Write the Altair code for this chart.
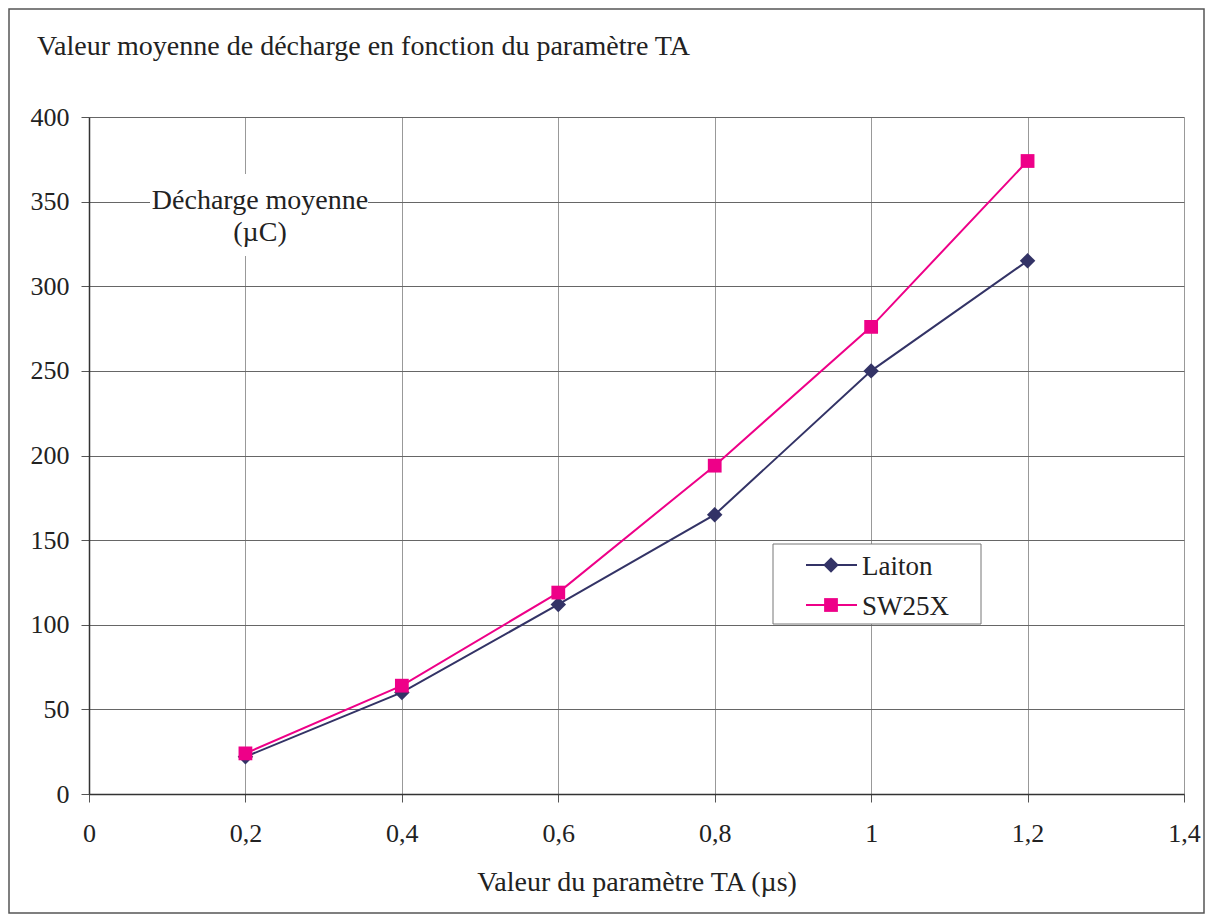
import altair as alt
import pandas as pd

ta = [0.2, 0.4, 0.6, 0.8, 1.0, 1.2]
laiton = [22, 60, 112, 165, 250, 315]
sw25x = [24, 64, 119, 194, 276, 374]
series = ["Laiton", "SW25X"]
colors = ["#333366", "#EE0088"]
shapes = ["diamond", "square"]
sizes = [240, 190]

x_ticks = [0, 0.2, 0.4, 0.6, 0.8, 1.0, 1.2, 1.4]
y_ticks = [0, 50, 100, 150, 200, 250, 300, 350, 400]

title_text = "Valeur moyenne de décharge en fonction du paramètre TA"
x_title = "Valeur du paramètre TA (µs)"
y_title = "Décharge moyenne\n(µC)"

W, H = 1095, 677
FONT = "Liberation Serif"
TXT = "#222222"

rows = []
for s, vals in zip(series, [laiton, sw25x]):
    for t, v in zip(ta, vals):
        rows.append({"TA": t, "val": v, "serie": s})
df = pd.DataFrame(rows)

xs = alt.Scale(domain=[0, 1.4], nice=False)
ys = alt.Scale(domain=[0, 400], nice=False)
cs = alt.Scale(domain=series, range=colors)
ss = alt.Scale(domain=series, range=shapes)
zs = alt.Scale(domain=series, range=sizes)

x_enc = alt.X("TA:Q", scale=xs, axis=alt.Axis(
    values=x_ticks, title=x_title, grid=True, gridColor="#999999",
    labelExpr="replace(datum.label, '.', ',')", format="~g",
    tickSize=8, tickColor="#555555", labelPadding=18, titlePadding=22,
    domainColor="#333333", domainWidth=1.5, labelFlush=False,
    labelFont=FONT, labelFontSize=26, labelColor=TXT,
    titleFont=FONT, titleFontSize=28, titleColor=TXT, titleFontWeight="normal"))
y_enc = alt.Y("val:Q", scale=ys, axis=alt.Axis(
    values=y_ticks, title=None, grid=True, gridColor="#666666",
    tickSize=8, tickColor="#555555", labelPadding=12,
    domainColor="#333333", domainWidth=1.5,
    labelFont=FONT, labelFontSize=26, labelColor=TXT))

base = alt.Chart(df)
lines = base.mark_line(strokeWidth=2).encode(
    x=x_enc, y=y_enc,
    color=alt.Color("serie:N", scale=cs, legend=None),
    detail="serie:N")
points = base.mark_point(filled=True, opacity=1).encode(
    x=alt.X("TA:Q", scale=xs), y=alt.Y("val:Q", scale=ys),
    color=alt.Color("serie:N", scale=cs, legend=None),
    shape=alt.Shape("serie:N", scale=ss, legend=None),
    size=alt.Size("serie:N", scale=zs, legend=None))

one = pd.DataFrame({"a": [0]})

# y-axis title inside plot with white background
ytitle_bg = alt.Chart(one).mark_rect(fill="white").encode(
    x=alt.value(61), x2=alt.value(279), y=alt.value(57), y2=alt.value(139))
ytitle = alt.Chart(pd.DataFrame({"t": [y_title]})).mark_text(
    font=FONT, fontSize=28, color=TXT, align="center", baseline="middle",
    lineBreak="\n", lineHeight=32).encode(
    text="t:N", x=alt.value(171), y=alt.value(84))

# Chart title
title = alt.Chart(pd.DataFrame({"t": [title_text]})).mark_text(
    font=FONT, fontSize=28, color=TXT, align="left", baseline="middle").encode(
    text="t:N", x=alt.value(-52), y=alt.value(-70))

# Outer frame
frame = alt.Chart(one).mark_rect(
    fill=None, stroke="#555555", strokeWidth=1.5).encode(
    x=alt.value(-80), x2=alt.value(W + 20), y=alt.value(-108), y2=alt.value(H + 119))

# Manual legend
leg_box = alt.Chart(one).mark_rect(
    fill="white", stroke="#777777", strokeWidth=1).encode(
    x=alt.value(684), x2=alt.value(892), y=alt.value(427), y2=alt.value(507))
leg_layers = [leg_box]
leg_rows = [448, 488]
for s, c, sh, sz, yy in zip(series, colors, shapes, sizes, leg_rows):
    d = pd.DataFrame({"serie": [s]})
    leg_layers.append(alt.Chart(d).mark_rule(strokeWidth=2, color=c).encode(
        x=alt.value(717), x2=alt.value(768), y=alt.value(yy)))
    leg_layers.append(alt.Chart(d).mark_point(
        filled=True, opacity=1, size=sz, color=c, shape=sh).encode(
        x=alt.value(742), y=alt.value(yy)))
    leg_layers.append(alt.Chart(d).mark_text(
        font=FONT, fontSize=27, color=TXT, align="left", baseline="middle").encode(
        x=alt.value(773), y=alt.value(yy + 2), text="serie:N"))

chart = alt.layer(
    lines, points, ytitle_bg, ytitle, title, frame, *leg_layers
).properties(
    width=W, height=H,
    autosize=alt.AutoSizeParams(type="none"),
    padding={"left": 81, "top": 109, "right": 21, "bottom": 121},
).configure_view(stroke=None)

chart.save("out.html", embed_options={"renderer": "svg", "actions": False})
